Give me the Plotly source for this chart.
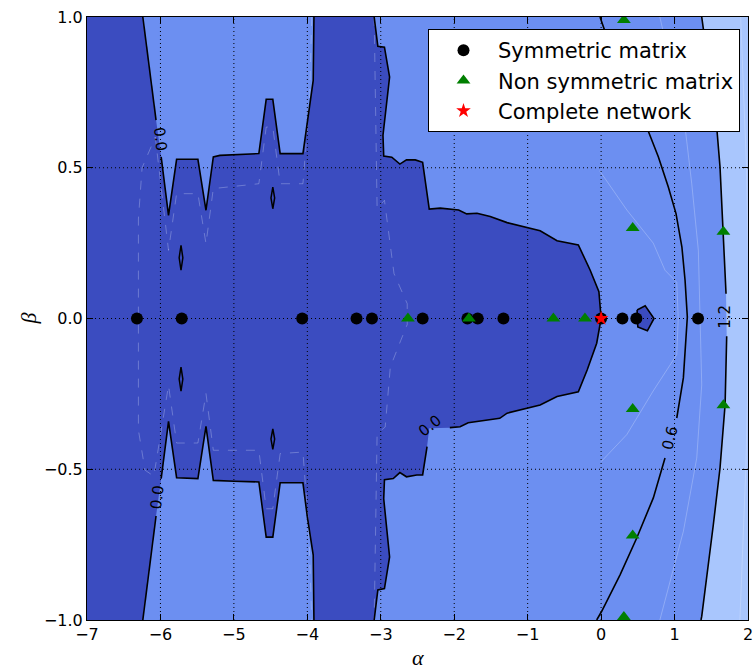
import plotly.graph_objects as go

# ---------------- data ----------------
# 0.0 contour: upper-left lobe boundary (top edge -> top edge)
ul_a = [-6.24, -6.06, -5.99, -5.89, -5.78, -5.49, -5.38, -5.28, -5.19, -5.00, -4.66, -4.56, -4.47, -4.37, -4.06, -3.92, -3.91]
ul_b = [1.0, 0.658, 0.536, 0.342, 0.528, 0.528, 0.359, 0.536, 0.541, 0.543, 0.547, 0.727, 0.727, 0.547, 0.547, 0.790, 1.0]
# 0.0 contour: lower-left lobe boundary (bottom edge -> bottom edge)
ll_a = [-6.24, -6.06, -5.99, -5.89, -5.78, -5.49, -5.38, -5.28, -5.00, -4.66, -4.56, -4.47, -4.37, -4.06, -4.00, -3.92, -3.91]
ll_b = [-1.0, -0.655, -0.531, -0.341, -0.528, -0.531, -0.358, -0.537, -0.540, -0.542, -0.725, -0.725, -0.545, -0.545, -0.658, -0.785, -1.0]
# 0.0 contour: middle band + bubble, upper half (top edge -> tip)
mu_a = [-3.09, -3.04, -2.95, -2.88, -2.97, -2.96, -2.85, -2.74, -2.65, -2.53, -2.43, -2.34, -2.19, -1.94, -1.83, -1.69, -1.51, -1.28, -0.83, -0.60, -0.31, -0.15, -0.03, 0.0]
mu_b = [1.0, 0.903, 0.900, 0.801, 0.608, 0.539, 0.535, 0.512, 0.526, 0.526, 0.518, 0.363, 0.366, 0.360, 0.347, 0.349, 0.338, 0.318, 0.291, 0.258, 0.244, 0.161, 0.089, 0.0]
# 0.0 contour: middle band + bubble, lower half (bottom edge -> tip)
ml_a = [-3.09, -3.04, -2.95, -2.88, -2.96, -2.95, -2.83, -2.74, -2.65, -2.51, -2.43, -2.37, -2.34, -2.06, -1.92, -1.81, -1.56, -1.38, -1.28, -0.83, -0.60, -0.31, -0.19, -0.06, 0.0]
ml_b = [-1.0, -0.900, -0.896, -0.791, -0.598, -0.535, -0.531, -0.511, -0.525, -0.519, -0.519, -0.425, -0.364, -0.362, -0.359, -0.346, -0.337, -0.331, -0.314, -0.287, -0.259, -0.243, -0.171, -0.082, 0.0]
# small negative island near alpha ~ 0.6
pent_a = [0.49, 0.60, 0.72, 0.63, 0.50]
pent_b = [0.028, 0.042, 0.0, -0.041, -0.028]
# tiny closed 0.0 contours (alpha, top beta, bottom beta)
dia_a = [-5.72, -5.72, -4.47, -4.47]
dia_top = [0.243, -0.161, 0.436, -0.366]
dia_bot = [0.160, -0.241, 0.364, -0.434]
# 0.6 contour
c06_a = [-0.015, 0.07, 0.26, 0.46, 0.62, 0.78, 0.915, 1.02, 1.10, 1.143, 1.174, 1.12, 1.03, 0.87, 0.711, 0.485, 0.258, 0.008, -0.06]
c06_b = [1.0, 0.94, 0.824, 0.725, 0.635, 0.536, 0.436, 0.348, 0.237, 0.127, 0.005, -0.197, -0.330, -0.463, -0.595, -0.728, -0.850, -0.971, -1.0]
# 1.2 contour
c12_a = [1.37, 1.574, 1.619, 1.664, 1.701, 1.71, 1.688, 1.619, 1.528, 1.37, 1.36]
c12_b = [1.0, 0.635, 0.502, 0.293, 0.082, -0.059, -0.286, -0.496, -0.684, -0.988, -1.0]
# faint intermediate contours
f03_a = [-0.02, 0.35, 0.71, 0.87, 1.03, 1.05, 1.03, 0.71, 0.35, 0.0]
f03_b = [0.49, 0.36, 0.25, 0.16, 0.12, 0.0, -0.12, -0.24, -0.385, -0.475]
f09_a = [0.80, 1.143, 1.234, 1.324, 1.347, 1.37, 1.302, 1.12, 0.80]
f09_b = [1.0, 0.635, 0.447, 0.226, 0.005, -0.22, -0.463, -0.706, -1.0]
f15_a = [1.90, 1.98, 2.02, 1.97, 1.89]
f15_b = [1.0, 0.5, 0.0, -0.5, -1.0]
fneg_a = [-3.94, -3.97, -4.06, -4.37, -4.47, -4.56, -4.66, -5.28, -5.38, -5.49, -5.78, -5.89, -6.07, -6.25, -6.30,
          -6.30, -6.21, -6.09, -5.89, -5.78, -5.49, -5.38, -5.28, -4.66, -4.56, -4.47, -4.37, -4.06, -3.98, -3.94]
fneg_b = [1.0, 0.72, 0.447, 0.447, 0.635, 0.635, 0.447, 0.431, 0.248, 0.414, 0.414, 0.226, 0.602, 0.50, 0.33,
          -0.37, -0.503, -0.523, -0.222, -0.413, -0.413, -0.249, -0.437, -0.437, -0.631, -0.631, -0.448, -0.443, -0.70, -1.0]
fnegm_a = [-3.09, -3.05, -2.95, -2.82, -2.64, -2.64, -2.73, -2.87, -2.94, -3.05, -3.09]
fnegm_b = [1.0, 0.364, 0.392, 0.149, 0.049, -0.02, -0.074, -0.161, -0.36, -0.382, -1.0]

# contour labels
lab_text = ["0.0", "0.0", "0.0", "0.6", "1.2"]
lab_a = [-6.006, -6.043, -2.334, 0.938, 1.691]
lab_b = [0.595, -0.592, -0.356, -0.396, 0.007]
lab_angle = [84, -83, -39, -76, -90]

# scatter series
sym_a = [-6.32, -5.71, -4.07, -3.33, -3.12, -2.43, -1.82, -1.68, -1.33, 0.0, 0.29, 0.48, 1.32]
sym_b = [0.0] * len(sym_a)
nsym_a = [-2.63, -1.80, -0.65, -0.22, 0.31, 0.43, 0.43, 0.43, 0.43, 0.31, 1.665, 1.665]
nsym_b = [0.0, 0.0, 0.0, 0.0, 0.99, 0.72, 0.30, -0.30, -0.72, -0.99, 0.288, -0.288]
comp_a = [0.0]
comp_b = [0.0]

x_ticks = [-7, -6, -5, -4, -3, -2, -1, 0, 1, 2]
y_ticks = [-1.0, -0.5, 0.0, 0.5, 1.0]

# ---------------- styles ----------------
C_DARK = "#3b4cc0"
C_MID = "#6c8ff1"
C_LIGHT = "#a9c6fd"
FAINT = "rgba(235,240,255,0.28)"
FONT = "DejaVu Sans"


def broken(xs, ys, cuts=(), drops=()):
    ox, oy = [], []
    for i, (x, y) in enumerate(zip(xs, ys)):
        if i in drops:
            ox.append(None); oy.append(None)
            continue
        ox.append(x); oy.append(y)
        if i in cuts:
            ox.append(None); oy.append(None)
    return ox, oy


fig = go.Figure()

# dark region (value < 0)
dark_x = [-7.0] + ul_a + mu_a + ml_a[::-1] + ll_a[::-1] + [-7.0]
dark_y = [1.0] + ul_b + mu_b + ml_b[::-1] + ll_b[::-1] + [-1.0]
fig.add_trace(go.Scatter(x=dark_x, y=dark_y, fill="toself", fillcolor=C_DARK, mode="lines",
                         line=dict(width=0), showlegend=False, hoverinfo="skip"))
fig.add_trace(go.Scatter(x=pent_a + [pent_a[0]], y=pent_b + [pent_b[0]], fill="toself", fillcolor=C_DARK,
                         mode="lines", line=dict(width=0), showlegend=False, hoverinfo="skip"))
# region above 1.2
fig.add_trace(go.Scatter(x=c12_a + [2.0, 2.0], y=c12_b + [-1.0, 1.0], fill="toself", fillcolor=C_LIGHT,
                         mode="lines", line=dict(width=0), showlegend=False, hoverinfo="skip"))

# faint intermediate lines
for fa, fb, dash in [(f03_a, f03_b, "solid"), (f09_a, f09_b, "solid"), (f15_a, f15_b, "solid"),
                     (fneg_a, fneg_b, "dash"), (fnegm_a, fnegm_b, "dash")]:
    fig.add_trace(go.Scatter(x=fa, y=fb, mode="lines", line=dict(color=FAINT, width=1, dash=dash),
                             showlegend=False, hoverinfo="skip"))

# dotted grid
gx, gy = [], []
for v in x_ticks[1:-1]:
    gx += [v, v, None]; gy += [y_ticks[0], y_ticks[-1], None]
for v in y_ticks[1:-1]:
    gx += [x_ticks[0], x_ticks[-1], None]; gy += [v, v, None]
fig.add_trace(go.Scatter(x=gx, y=gy, mode="lines", line=dict(color="black", width=1, dash="1px,3px"),
                         showlegend=False, hoverinfo="skip"))

# black contour lines
BL = dict(color="black", width=1.6)
for xs, ys, cuts, drops in [(ul_a, ul_b, {1}, ()), (ll_a, ll_b, {1}, ()), (mu_a, mu_b, (), ()),
                            (ml_a, ml_b, (), {12}), (c06_a, c06_b, {12}, ()), (c12_a, c12_b, {4}, ())]:
    bx, by = broken(xs, ys, cuts, drops)
    fig.add_trace(go.Scatter(x=bx, y=by, mode="lines", line=BL, showlegend=False, hoverinfo="skip",
                             connectgaps=False))
fig.add_trace(go.Scatter(x=pent_a + [pent_a[0]], y=pent_b + [pent_b[0]], mode="lines", line=BL,
                         showlegend=False, hoverinfo="skip"))
dx, dy = [], []
for a, t, b in zip(dia_a, dia_top, dia_bot):
    m = (t + b) / 2
    dx += [a, a + 0.025, a, a - 0.025, a, None]
    dy += [t, m, b, m, t, None]
fig.add_trace(go.Scatter(x=dx, y=dy, mode="lines", line=dict(color="black", width=1.5),
                         showlegend=False, hoverinfo="skip"))

# markers
fig.add_trace(go.Scatter(x=sym_a, y=sym_b, mode="markers", name="Symmetric matrix",
                         marker=dict(symbol="circle", size=12, color="black")))
fig.add_trace(go.Scatter(x=nsym_a, y=nsym_b, mode="markers", name="Non symmetric matrix",
                         marker=dict(symbol="triangle-up", size=12, color="#007f00")))
fig.add_trace(go.Scatter(x=comp_a, y=comp_b, mode="markers", name="Complete network",
                         marker=dict(symbol="star", size=11, color="#ff0000")))

# contour labels
for t, a, b, ang in zip(lab_text, lab_a, lab_b, lab_angle):
    fig.add_annotation(x=a, y=b, xref="x", yref="y", text=t, showarrow=False, textangle=ang,
                       font=dict(family=FONT, size=15, color="black"))

# axis titles
fig.add_annotation(x=0.5, y=(620 - 657) / 603, xref="paper", yref="paper", text="<i>α</i>",
                   showarrow=False, font=dict(family="Liberation Serif", size=22, color="black"),
                   xanchor="center", yanchor="middle")
fig.add_annotation(x=(28 - 87) / 661, y=0.5, xref="paper", yref="paper", text="<i>β</i>",
                   showarrow=False, textangle=-90,
                   font=dict(family="Liberation Serif", size=22, color="black"),
                   xanchor="center", yanchor="middle")

axis_common = dict(showgrid=False, zeroline=False, showline=True, linecolor="black", linewidth=1,
                   mirror="ticks", ticks="inside", ticklen=6, tickcolor="black", tickwidth=1,
                   layer="above traces", automargin=False,
                   tickfont=dict(family=FONT, size=16, color="black"))
fig.update_xaxes(range=[x_ticks[0], x_ticks[-1]], tickvals=x_ticks, **axis_common)
fig.update_yaxes(range=[y_ticks[0], y_ticks[-1]], tickvals=y_ticks, tickformat=".1f", **axis_common)

fig.update_layout(
    width=756, height=671, autosize=False,
    margin=dict(l=87, r=8, t=17, b=51, autoexpand=False),
    paper_bgcolor="white", plot_bgcolor=C_MID,
    showlegend=True,
    legend=dict(x=(740 - 87) / 661, y=(620 - 29) / 603, xanchor="right", yanchor="top",
                bgcolor="white", bordercolor="black", borderwidth=1, itemwidth=59,
                font=dict(family=FONT, size=21, color="black"), tracegroupgap=0),
)

fig.write_html("out.html")
